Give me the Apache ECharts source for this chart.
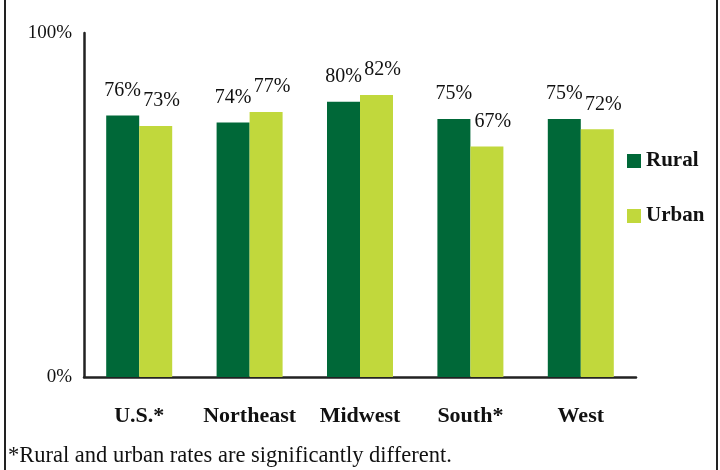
<!DOCTYPE html>
<html>
<head>
<meta charset="utf-8">
<script src="https://cdn.jsdelivr.net/npm/echarts@6/dist/echarts.min.js"></script>
<style>
html,body{margin:0;padding:0;background:#fff;}
#chart{width:720px;height:470px;}
</style>
</head>
<body>
<div id="chart"></div>
<script>
var categories = ['U.S.*', 'Northeast', 'Midwest', 'South*', 'West'];
var ruralValues = [76, 74, 80, 75, 75];
var urbanValues = [73, 77, 82, 67, 72];
var yTicks = [0, 100];
var footnote = '*Rural and urban rates are significantly different.';

var serif = '"Liberation Serif", "Times New Roman", serif';
var chart = echarts.init(document.getElementById('chart'), null, {renderer: 'canvas'});

var labelStyle = {
  show: true,
  position: 'top',
  distance: 15,
  color: '#111',
  fontFamily: serif,
  fontSize: 20,
  formatter: '{c}%'
};

chart.setOption({
  backgroundColor: '#fff',
  animation: false,
  grid: {left: 84, right: 84, top: 33, bottom: 93, containLabel: false},
  legend: {
    orient: 'vertical',
    left: 622,
    top: 145,
    itemWidth: 14,
    itemHeight: 14,
    itemGap: 33,
    itemTextGap: 5,
    icon: 'rect',
    data: ['Rural', 'Urban'],
    textStyle: {fontFamily: serif, fontSize: 21, fontWeight: 'bold', color: '#111', padding: [0, 0, 0, 0], lineHeight: 22}
  },
  xAxis: {
    type: 'category',
    data: categories,
    axisLine: {lineStyle: {color: '#222', width: 2.5}},
    axisTick: {show: false},
    axisLabel: {interval: 0, fontFamily: serif, fontSize: 22, fontWeight: 'bold', color: '#111', margin: 28, lineHeight: 22}
  },
  yAxis: {
    type: 'value',
    min: yTicks[0],
    max: yTicks[yTicks.length - 1],
    interval: 100,
    axisLine: {show: true, lineStyle: {color: '#222', width: 2.5}},
    axisTick: {show: false},
    splitLine: {show: false},
    axisLabel: {fontFamily: serif, fontSize: 19, color: '#111', margin: 12, formatter: '{value}%'}
  },
  series: [
    {
      name: 'Rural',
      type: 'bar',
      data: ruralValues,
      barWidth: 33,
      barGap: '0%',
      itemStyle: {color: '#006838'},
      label: labelStyle
    },
    {
      name: 'Urban',
      type: 'bar',
      data: urbanValues,
      barWidth: 33,
      barGap: '0%',
      itemStyle: {color: '#c1d83c'},
      label: Object.assign({}, labelStyle, {offset: [6, 0]})
    }
  ],
  graphic: [
    {type: 'rect', left: 4, top: 0, shape: {width: 2, height: 470}, style: {fill: '#222'}},
    {type: 'rect', left: 716, top: 0, shape: {width: 2, height: 470}, style: {fill: '#222'}},
    {type: 'text', left: 8, top: 445, style: {text: footnote, font: '22.5px ' + serif, fill: '#111'}}
  ]
});
</script>
</body>
</html>
